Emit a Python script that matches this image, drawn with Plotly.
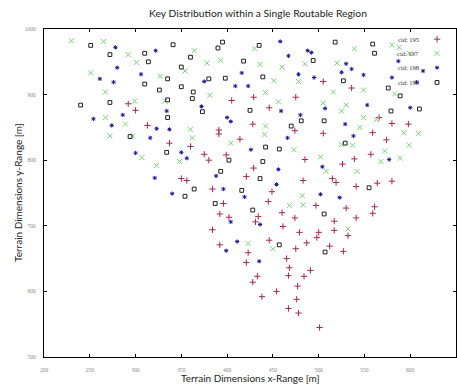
import plotly.graph_objects as go

# cid 195 (red plus)
x195 = [292, 300, 405, 313, 391, 391, 414, 337, 360, 375, 380, 399, 350, 356, 384, 421,
        505, 536, 429, 475, 446, 428, 474, 505, 566, 580, 598, 559, 574, 557, 539, 485,
        526, 429, 483, 515, 519, 541, 564, 580, 396, 392, 402, 384, 392, 423, 421, 449,
        445, 497, 530, 561, 559, 460, 434, 431, 474, 517, 541, 461, 517, 479, 500, 498,
        532, 446, 487, 512, 475, 527, 465, 468, 491, 467, 484, 433, 428, 477, 454, 438,
        476, 467, 478, 501]
y195 = [886, 876, 891, 853, 846, 840, 832, 826, 821, 809, 800, 808, 772, 769, 756, 775,
        920, 910, 896, 896, 880, 855, 845, 841, 865, 856, 855, 842, 831, 809, 802, 801,
        794, 788, 769, 772, 766, 760, 765, 768, 734, 718, 713, 694, 671, 659, 644, 752,
        737, 731, 727, 729, 719, 720, 714, 706, 712, 707, 712, 699, 693, 690, 690, 682,
        685, 678, 674, 669, 665, 661, 650, 636, 632, 624, 623, 623, 614, 608, 600, 592,
        588, 574, 567, 545]

# cid 197 (green x)
x197 = [230, 265, 292, 301, 251, 327, 267, 299, 332, 267, 289, 272, 297, 307, 323, 348,
        354, 364, 378, 393, 360, 362, 381, 404, 430, 436, 460, 485, 451, 478, 539, 520,
        580, 588, 599, 516, 549, 442, 456, 505, 530, 525, 583, 549, 563, 442, 441, 545,
        593, 609, 473, 525, 537, 572, 599, 502, 568, 589, 508, 542, 423, 482, 468, 483,
        532, 450]
y197 = [982, 981, 961, 949, 933, 928, 904, 890, 890, 865, 855, 837, 837, 804, 792, 798,
        936, 967, 948, 952, 847, 834, 899, 826, 970, 946, 942, 947, 921, 920, 970, 948,
        976, 972, 963, 904, 907, 903, 889, 887, 884, 875, 901, 865, 862, 852, 839, 850,
        842, 841, 816, 824, 823, 814, 823, 805, 798, 803, 783, 783, 673, 746, 731, 732,
        695, 665]

# cid 198 (blue asterisk)
x198 = [278, 322, 280, 261, 276, 306, 375, 416, 409, 423, 286, 254, 274, 334, 372, 323,
        337, 316, 400, 404, 300, 350, 356, 321, 388, 396, 458, 467, 488, 492, 478, 495,
        530, 536, 525, 549, 587, 614, 580, 607, 459, 507, 480, 553, 600, 529, 466, 538,
        426, 577, 456, 504, 454, 340, 419, 404, 411, 399, 502, 523, 436, 435]
y198 = [972, 967, 941, 924, 919, 931, 920, 933, 913, 913, 869, 863, 853, 875, 882, 848,
        847, 834, 865, 859, 811, 812, 803, 773, 776, 756, 981, 959, 967, 964, 931, 926,
        947, 939, 934, 930, 951, 936, 926, 919, 875, 879, 869, 884, 880, 855, 834, 837,
        816, 801, 786, 790, 763, 749, 744, 706, 676, 662, 748, 743, 702, 646]

# cid 199 (black square)
x199 = [251, 272, 310, 341, 314, 310, 335, 326, 350, 360, 390, 395, 350, 363, 380, 398,
        418, 240, 272, 335, 362, 373, 335, 294, 334, 402, 393, 364, 435, 494, 518, 559,
        561, 439, 527, 576, 589, 425, 481, 506, 470, 579, 610, 529, 442, 457, 439, 436,
        555, 416, 354, 387, 428, 506, 457, 507]
y199 = [975, 961, 963, 976, 950, 916, 924, 907, 942, 957, 971, 980, 912, 904, 924, 925,
        951, 884, 888, 892, 894, 874, 865, 836, 812, 800, 783, 756, 975, 952, 980, 977,
        963, 927, 921, 910, 898, 876, 860, 860, 852, 875, 878, 826, 820, 817, 798, 772,
        758, 754, 745, 734, 724, 718, 671, 660]

legend_names = ["cid: 195", "cid: 197", "cid: 198", "cid: 199"]
legend_rows = [0.969, 0.926, 0.882, 0.837]

styles = [
    dict(symbol="cross-thin", size=4.5, line=dict(color="#a8284e", width=1)),
    dict(symbol="x-thin", size=5, line=dict(color="#74d874", width=1)),
    dict(symbol="asterisk", size=3.5, line=dict(color="#1c1c9c", width=1)),
    dict(symbol="square-open", size=3.8, color="#222222", line=dict(color="#222222", width=1)),
]
series = [(x195, y195), (x197, y197), (x198, y198), (x199, y199)]

fig = go.Figure()
for (xs, ys), st, nm in zip(series, styles, legend_names):
    fig.add_trace(go.Scatter(x=xs, y=ys, mode="markers", name=nm, marker=st,
                             showlegend=False, hoverinfo="skip"))

# legend: text on the left, marker on the right
for st, nm, ry in zip(styles, legend_names, legend_rows):
    fig.add_trace(go.Scatter(x=[0.954], y=[ry], mode="markers", marker=st,
                             xaxis="x2", yaxis="y2", showlegend=False, hoverinfo="skip"))
    fig.add_annotation(x=0.915, y=ry, xref="paper", yref="paper", text=nm,
                       showarrow=False, xanchor="right", yanchor="middle",
                       font=dict(family="Liberation Serif", size=6.5, color="#333333"))

tick_font = dict(family="Liberation Serif", size=5.5, color="#888888")
fig.update_layout(
    width=457, height=385,
    margin=dict(l=44, r=1, t=29, b=28),
    plot_bgcolor="white", paper_bgcolor="white",
    showlegend=False,
    title=dict(text="Key Distribution within a Single Routable Region",
               x=258 / 457, y=1 - 13 / 385, xref="container", yref="container",
               xanchor="center", yanchor="middle",
               font=dict(family="Lato", size=10.3, color="#222222")),
    xaxis=dict(range=[200, 650], dtick=50, showgrid=False, zeroline=False,
               showline=True, linecolor="black", linewidth=1.2, mirror="allticks",
               ticks="inside", ticklen=3, tickcolor="black",
               tickfont=tick_font, ticklabelstandoff=7),
    yaxis=dict(range=[500, 1000], dtick=100, showgrid=False, zeroline=False,
               showline=True, linecolor="black", linewidth=1.2, mirror="allticks",
               ticks="inside", ticklen=3, tickcolor="black",
               tickfont=tick_font, ticklabelstandoff=6),
    xaxis2=dict(range=[0, 1], overlaying="x", visible=False),
    yaxis2=dict(range=[0, 1], overlaying="y", visible=False),
)
fig.add_annotation(x=0.5, y=0, xref="paper", yref="paper", yshift=-21,
                   text="Terrain Dimensions x-Range [m]", showarrow=False,
                   xanchor="center", yanchor="middle",
                   font=dict(family="Lato", size=10, color="#222222"))
fig.add_annotation(x=0, y=0.5, xref="paper", yref="paper", xshift=-26,
                   text="Terrain Dimensions y-Range [m]", showarrow=False, textangle=-90,
                   xanchor="center", yanchor="middle",
                   font=dict(family="Lato", size=10, color="#222222"))

fig.write_html("out.html", config={"displayModeBar": False},
               post_script="document.body.style.margin='0px';")
